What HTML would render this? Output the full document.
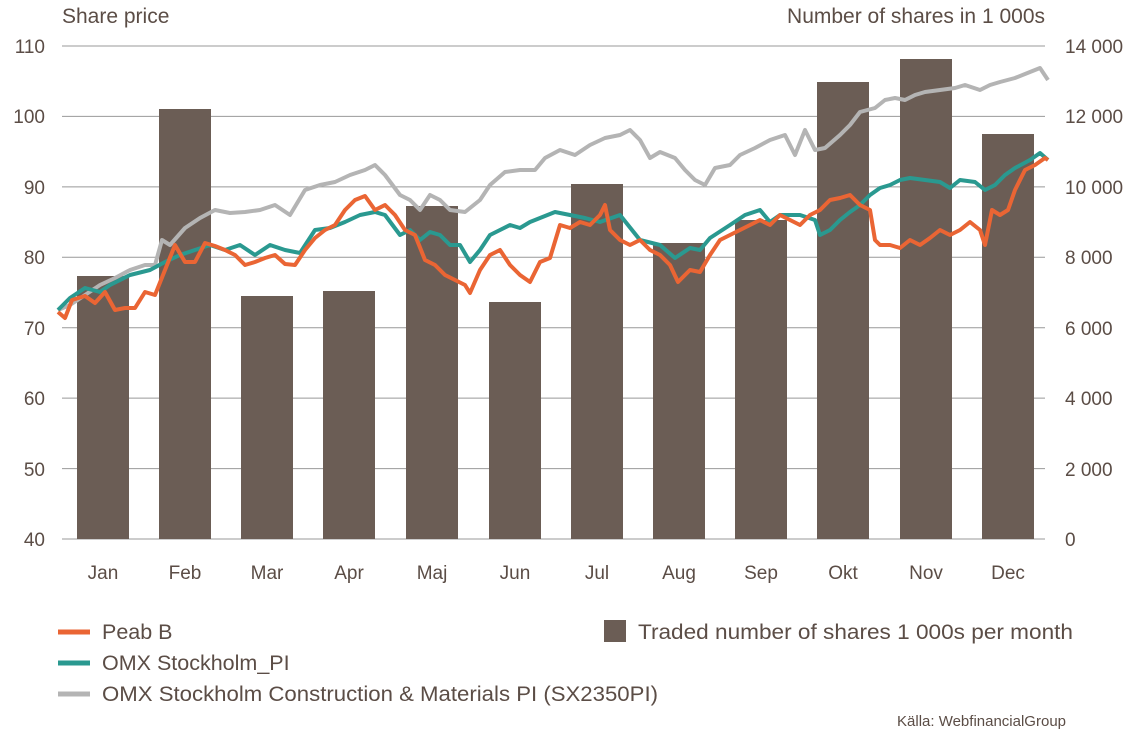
<!DOCTYPE html>
<html><head><meta charset="utf-8"><style>
body{margin:0;background:#fff;}
svg text{font-family:"Liberation Sans",sans-serif;fill:#5b4d46;}
</style></head><body>
<svg width="1141" height="734" viewBox="0 0 1141 734" xmlns="http://www.w3.org/2000/svg">
<text x="62" y="23" font-size="21">Share price</text>
<text x="1045" y="23" font-size="21" text-anchor="end">Number of shares in 1 000s</text>
<g stroke="#999" stroke-width="1">
<line x1="62" y1="46" x2="1045" y2="46"/><line x1="62" y1="116.4" x2="1045" y2="116.4"/>
<line x1="62" y1="186.9" x2="1045" y2="186.9"/><line x1="62" y1="257.3" x2="1045" y2="257.3"/>
<line x1="62" y1="327.7" x2="1045" y2="327.7"/><line x1="62" y1="398.1" x2="1045" y2="398.1"/>
<line x1="62" y1="468.6" x2="1045" y2="468.6"/><line x1="62" y1="539" x2="1045" y2="539"/>
</g>
<g font-size="19" text-anchor="end">
<text x="45" y="53">110</text><text x="45" y="123">100</text><text x="45" y="194">90</text>
<text x="45" y="264">80</text><text x="45" y="335">70</text><text x="45" y="405">60</text>
<text x="45" y="476">50</text><text x="45" y="546">40</text>
</g>
<g font-size="19">
<text x="1065" y="53">14 000</text><text x="1065" y="123">12 000</text><text x="1065" y="194">10 000</text>
<text x="1065" y="264">8 000</text><text x="1065" y="335">6 000</text><text x="1065" y="405">4 000</text>
<text x="1065" y="476">2 000</text><text x="1065" y="546">0</text>
</g>
<g fill="#6b5d55">
<rect x="77" y="276" width="52" height="263"/><rect x="159" y="109" width="52" height="430"/>
<rect x="241" y="296" width="52" height="243"/><rect x="323" y="291" width="52" height="248"/>
<rect x="406" y="206" width="52" height="333"/><rect x="489" y="302" width="52" height="237"/>
<rect x="571" y="184" width="52" height="355"/><rect x="653" y="243" width="52" height="296"/>
<rect x="735" y="220" width="52" height="319"/><rect x="817" y="82" width="52" height="457"/>
<rect x="900" y="59" width="52" height="480"/><rect x="982" y="134" width="52" height="405"/>
</g>
<g font-size="19" text-anchor="middle">
<text x="103" y="579">Jan</text><text x="185" y="579">Feb</text><text x="267" y="579">Mar</text>
<text x="349" y="579">Apr</text><text x="432" y="579">Maj</text><text x="515" y="579">Jun</text>
<text x="597" y="579">Jul</text><text x="679" y="579">Aug</text><text x="761" y="579">Sep</text>
<text x="843" y="579">Okt</text><text x="926" y="579">Nov</text><text x="1008" y="579">Dec</text>
</g>
<g fill="none" stroke-width="4" stroke-linejoin="round">
<polyline stroke="#b4b4b4" points="58,310 70,305 85,295 100,285 115,278 130,270 145,265 155,265 162,240 170,245 185,228 200,218 215,210 230,213 245,212 260,210 275,205 290,215 305,190 320,185 335,182 350,175 365,170 375,165 385,175 400,195 410,200 420,210 430,195 440,200 450,210 465,212 480,200 490,185 505,172 520,170 535,170 545,158 560,150 575,155 590,145 605,138 620,135 630,130 640,140 650,158 660,152 675,158 685,170 695,180 705,185 715,168 730,165 740,155 755,148 770,140 785,135 795,155 805,130 815,150 825,148 840,135 850,125 860,112 875,108 885,100 895,98 905,100 915,95 925,92 940,90 955,88 965,85 980,90 990,85 1000,82 1015,78 1030,72 1040,68 1048,80"/>
<polyline stroke="#2a9990" points="58,310 70,298 85,288 100,292 110,285 130,275 150,270 165,262 180,255 195,250 210,245 225,250 240,245 255,255 270,245 285,250 300,253 315,230 330,228 345,222 360,215 375,212 385,215 400,235 410,230 420,240 430,232 440,235 450,245 460,245 470,262 480,250 490,235 500,230 510,225 520,228 530,222 540,218 555,212 570,215 585,218 600,222 620,215 640,240 660,245 675,258 690,248 700,250 710,238 730,225 745,215 760,210 770,222 780,215 800,215 815,220 820,235 830,230 840,220 850,212 860,205 870,195 880,188 890,185 900,180 910,178 925,180 940,182 950,188 960,180 975,182 985,190 995,185 1005,175 1015,168 1030,160 1040,153 1048,160"/>
<polyline stroke="#ea6534" points="58,312 65,318 72,300 85,296 95,303 105,292 115,310 125,308 135,308 145,292 155,295 165,270 175,245 185,262 195,262 205,243 215,246 225,250 235,255 245,265 255,262 265,258 275,255 285,264 295,265 305,250 315,238 325,230 335,225 345,210 355,200 365,196 375,210 385,205 395,215 405,230 415,235 425,260 435,265 445,275 455,280 465,285 470,293 480,270 490,255 500,250 510,265 520,275 530,282 540,262 550,258 560,225 570,228 580,222 590,225 600,215 605,205 610,230 620,240 630,245 640,240 650,250 660,255 670,265 678,282 690,270 700,272 710,255 720,240 730,235 740,230 750,225 760,220 770,225 780,215 790,220 800,225 810,215 820,210 830,200 840,198 850,195 860,205 870,210 875,240 880,245 890,245 900,248 910,240 920,245 930,238 940,230 950,235 960,230 970,222 980,230 985,245 992,210 1000,215 1008,210 1015,190 1025,170 1035,165 1045,158 1048,160"/>
</g>
<g stroke-width="5">
<line x1="58" y1="632" x2="90" y2="632" stroke="#ea6534"/>
<line x1="58" y1="663" x2="90" y2="663" stroke="#2a9990"/>
<line x1="58" y1="694" x2="90" y2="694" stroke="#b4b4b4"/>
</g>
<g font-size="21.5">
<text x="102" y="639">Peab B</text>
<text x="102" y="670">OMX Stockholm_PI</text>
<text x="102" y="701" textLength="556" lengthAdjust="spacingAndGlyphs">OMX Stockholm Construction &amp; Materials PI (SX2350PI)</text>
<text x="638" y="639" textLength="435" lengthAdjust="spacingAndGlyphs">Traded number of shares 1 000s per month</text>
</g>
<rect x="604" y="620" width="22" height="22" fill="#6b5d55"/>
<text x="1066" y="726" font-size="15" text-anchor="end">Källa: WebfinancialGroup</text>
</svg>
</body></html>
